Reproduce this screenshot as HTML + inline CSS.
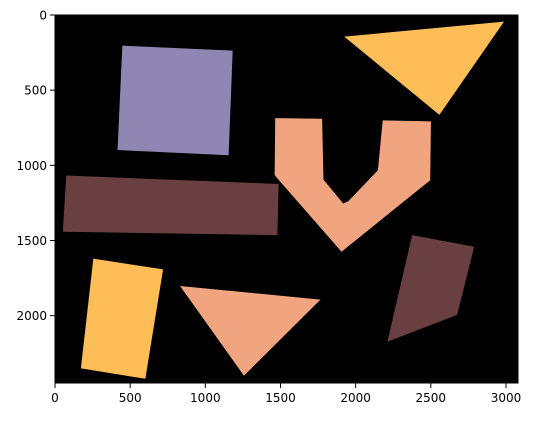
<!DOCTYPE html>
<html><head><meta charset="utf-8"><style>
body{margin:0;background:#fff;}
svg text{font-family:"DejaVu Sans","Liberation Sans",sans-serif;font-size:12px;fill:#000;}
</style></head><body>
<svg id="chart" width="534" height="418" xmlns="http://www.w3.org/2000/svg"></svg>
<script>
const xTicks=[0,500,1000,1500,2000,2500,3000];
const yTicks=[0,500,1000,1500,2000];
const purpleSquare=[[448,204],[1182,237],[1155,933],[416,898]];
const yellowTriangle=[[1924,144],[2987,44],[2557,664]];
const brownBar=[[75,1068],[1488,1124],[1479,1464],[52,1442]];
const salmonU=[[1465,686],[1777,690],[1786,1095],[1917,1254],[1951,1239],[2148,1033],[2180,701],[2501,708],[2496,1099],[1906,1575],[1461,1066]];
const brownQuad=[[2376,1464],[2788,1542],[2675,1995],[2211,2174]];
const yellowRect=[[255,1621],[719,1692],[601,2420],[172,2351]];
const salmonTriangle=[[832,1803],[1766,1893],[1257,2400]];
const X0=55,X1=518,Y0=15,Y1=383,XMAX=3080,YMAX=2448;
const sx=v=>X0+v/XMAX*(X1-X0), sy=v=>Y0+v/YMAX*(Y1-Y0);
const svg=document.getElementById('chart');const NS='http://www.w3.org/2000/svg';
function mk(t,a){const e=document.createElementNS(NS,t);for(const k in a)e.setAttribute(k,a[k]);svg.appendChild(e);return e;}
let bg=mk('rect',{x:X0,y:Y0,width:X1-X0,height:Y1-Y0,fill:'#000'});


const shapes=[[purpleSquare,'#8f86b4','purple-square'],[yellowTriangle,'#fdbe58','yellow-triangle'],[brownBar,'#6a3f42','brown-bar'],[salmonU,'#f0a47f','salmon-u-shape'],[brownQuad,'#6a3f42','brown-quad'],[yellowRect,'#fdbe58','yellow-rect'],[salmonTriangle,'#f0a47f','salmon-triangle']];
shapes.forEach(s=>{const p=mk('polygon',{points:s[0].map(q=>sx(q[0])+','+sy(q[1])).join(' '),fill:s[1]});

});
let fr=mk('rect',{x:X0,y:Y0,width:X1-X0,height:Y1-Y0,fill:'none',stroke:'#000','stroke-width':1});


xTicks.forEach(v=>{const x=sx(v);mk('line',{x1:x,x2:x,y1:Y1,y2:Y1+5,stroke:'#000'});
const t=mk('text',{x:x,y:Y1+19,'text-anchor':'middle'});t.textContent=v;

});
yTicks.forEach(v=>{const y=sy(v);mk('line',{x1:X0-5,x2:X0,y1:y,y2:y,stroke:'#000'});
const t=mk('text',{x:X0-8,y:y+4.5,'text-anchor':'end'});t.textContent=v;

});
</script>
</body></html>
